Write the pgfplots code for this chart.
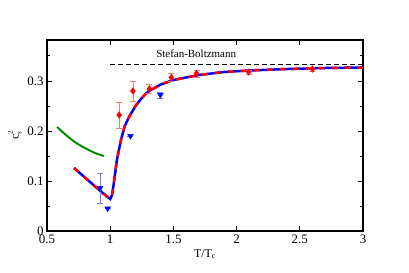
\documentclass[border=0pt]{standalone}
\usepackage{fontspec}
\setmainfont{Liberation Serif}
\usepackage{pgfplots}
\pgfplotsset{compat=1.18}
\definecolor{sbgreen}{RGB}{0,140,0}
\definecolor{errred}{RGB}{240,120,120}
\definecolor{errblue}{RGB}{120,120,240}
\begin{document}
\begin{tikzpicture}
\begin{axis}[
  scale only axis, width=316bp, height=191bp,
  xmin=0.5, xmax=3, ymin=0, ymax=0.382,
  xtick={0.5,1,1.5,2,2.5,3},
  ytick={0,0.1,0.2,0.3},
  yticklabels={0,0.1,0.2,0.3},
  xticklabels={0.5,1,1.5,2,2.5,3},
  minor ytick={0.05,0.15,0.25,0.35},
  /pgf/number format/assume math mode=true,
  tick align=inside,
  major tick length=5bp, minor tick length=3bp,
  axis line style={line width=1.3pt},
  every tick/.style={line width=1pt, black},
  tick label style={font=\fontsize{13}{15}\selectfont},
  xlabel={T/T\textsubscript{c}},
  ylabel={c\makebox[0pt][l]{\raisebox{-0.5ex}{\scriptsize s}}\raisebox{1.1ex}{\scriptsize 2}},
  label style={font=\fontsize{12}{14}\selectfont},
  xlabel style={yshift=1bp},
  ylabel style={yshift=-1bp},
  clip=false,
]
% Stefan-Boltzmann
\addplot[black, dashed, line width=1pt, dash pattern=on 5bp off 3bp] coordinates {(1,0.3333) (3,0.3333)};
\node[font=\fontsize{11}{13}\selectfont] at (axis cs:1.68,0.354) {Stefan-Boltzmann};
% green curve
\addplot[sbgreen, line width=2pt, smooth] coordinates {
(0.58,0.208) (0.65,0.192) (0.72,0.178) (0.80,0.166) (0.88,0.156) (0.95,0.150)};
% main curve: blue solid + red dashes
\addplot[blue, line width=2.5pt] coordinates {
(0.714,0.126) (0.80,0.107) (0.90,0.085) (0.96,0.072) (1.00,0.064) (1.015,0.072) (1.03,0.098) (1.053,0.142) (1.085,0.182) (1.114,0.209) (1.145,0.226) (1.20,0.250) (1.25,0.266) (1.30,0.279) (1.40,0.293) (1.50,0.302) (1.70,0.312) (1.90,0.318) (2.10,0.321) (2.40,0.324) (2.70,0.326) (3.0,0.327)};
\addplot[red, line width=2.5pt, dash pattern=on 6bp off 7bp] coordinates {
(0.714,0.126) (0.80,0.107) (0.90,0.085) (0.96,0.072) (1.00,0.064) (1.015,0.072) (1.03,0.098) (1.053,0.142) (1.085,0.182) (1.114,0.209) (1.145,0.226) (1.20,0.250) (1.25,0.266) (1.30,0.279) (1.40,0.293) (1.50,0.302) (1.70,0.312) (1.90,0.318) (2.10,0.321) (2.40,0.324) (2.70,0.326) (3.0,0.327)};
% red diamonds
\addplot[only marks, mark=diamond*, mark size=3.3bp, red, mark options={fill=red},
  error bars/.cd, y dir=both, y explicit,
  error bar style={errred, line width=0.7pt},
  error mark options={errred, rotate=90, mark size=3bp, line width=0.7pt}]
  coordinates {
(1.071,0.232) +- (0,0.026)
(1.18,0.280) +- (0,0.020)
(1.31,0.284) +- (0,0.009)
(1.484,0.307) +- (0,0.008)
(1.683,0.315) +- (0,0.007)
(2.095,0.318) +- (0,0.004)
(2.60,0.324) +- (0,0.004)};
% blue triangles
\addplot[only marks, mark=triangle*, mark size=3.3bp, blue, mark options={rotate=180, fill=blue},
  error bars/.cd, y dir=both, y explicit,
  error bar style={errblue, line width=0.7pt},
  error mark options={errblue, rotate=90, mark size=3bp, line width=0.7pt}]
  coordinates {
(0.92,0.086) +- (0,0.030)
(0.98,0.045) +- (0,0.0)
(1.16,0.190) +- (0,0.0)
(1.397,0.272) +- (0,0.006)};
\end{axis}
\path ([shift={(-47bp,40bp)}]current axis.north west) rectangle ++(409bp,-273bp);
\end{tikzpicture}
\end{document}
